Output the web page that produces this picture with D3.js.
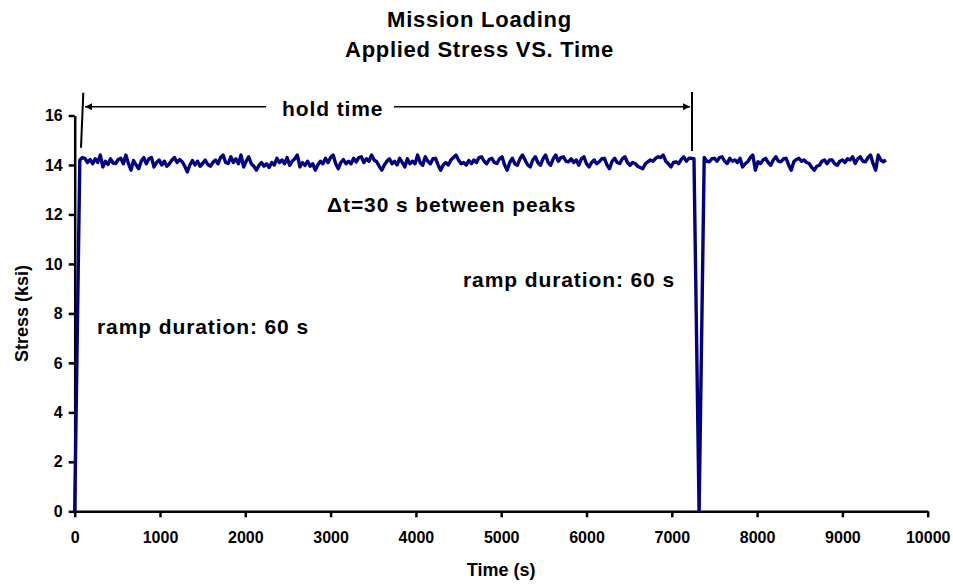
<!DOCTYPE html>
<html>
<head>
<meta charset="utf-8">
<script src="https://cdn.jsdelivr.net/npm/d3@7"></script>
<style>
  body { margin: 0; background: #fff; }
  text { font-family: Arial, 'Liberation Sans', sans-serif; font-weight: bold; fill: #000; }
</style>
</head>
<body>
<div id="chart"></div>
<script>
// stress readings (ksi), one every 30 s, first hold starts at 60 s
const holdOneStart = 60
const holdOneStress = [
  14.20, 14.30, 14.27, 14.10, 14.22, 14.05, 14.25, 14.10, 14.40, 13.92,
  14.15, 14.02, 14.25, 14.08, 14.06, 14.22, 14.27, 14.05, 14.40, 14.05,
  13.79, 14.18, 14.00, 13.85, 14.15, 14.30, 14.05, 14.25, 14.30, 13.92,
  14.10, 14.20, 14.00, 14.15, 13.95, 14.05, 14.20, 14.30, 14.10, 14.22,
  14.13, 13.95, 13.72, 14.00, 14.18, 14.00, 14.15, 13.95, 14.06, 14.20,
  14.02, 13.95, 14.10, 14.20, 14.05, 14.30, 14.40, 14.10, 14.06, 14.33,
  14.10, 14.25, 14.05, 14.40, 13.92, 14.15, 14.33, 14.05, 13.95, 13.79,
  13.98, 14.10, 13.95, 14.05, 13.90, 14.10, 14.00, 14.27, 14.10, 14.20,
  14.05, 14.30, 13.99, 14.15, 14.25, 14.40, 13.92, 14.10, 13.98, 14.15,
  13.95, 14.05, 13.79, 14.00, 14.15, 14.05, 14.27, 14.10, 14.30, 14.40,
  14.05, 13.85, 14.10, 14.22, 14.05, 14.15, 14.05, 14.27, 14.12, 14.30,
  14.33, 14.10, 14.25, 14.15, 14.40, 14.20, 14.13, 13.95, 13.79, 14.00,
  14.15, 14.25, 14.05, 14.15, 14.00, 14.27, 14.10, 13.92, 14.25, 14.05,
  14.15, 14.05, 14.40, 14.10, 13.99, 14.33, 14.15, 14.05, 14.25, 14.27,
  14.00, 13.79, 14.00, 14.10, 14.00, 14.20, 14.30, 14.40, 14.20, 14.05,
  14.10, 14.00, 14.18, 14.05, 14.20, 14.10, 14.30, 14.33, 14.15, 14.05,
  14.22, 14.27, 14.10, 14.06, 14.25, 14.33, 14.00, 13.79, 14.10, 14.27,
  14.05, 13.99, 14.25, 14.40, 14.20, 14.00, 13.92, 14.20, 14.33, 14.10,
  13.99, 14.25, 14.40, 14.10, 13.99, 14.25, 14.40, 14.15, 14.30, 14.33,
  14.15, 14.13, 14.25, 14.10, 14.20, 13.99, 14.25, 14.33, 14.05, 13.92,
  14.10, 14.20, 14.05, 14.13, 14.25, 14.27, 14.00, 13.85, 14.15, 14.27,
  14.10, 14.06, 14.25, 14.33, 14.10, 13.99, 14.10, 14.06, 13.95, 13.90,
  13.85, 14.05, 14.13, 14.20, 14.15, 14.27, 14.33, 14.30, 14.40, 14.15,
  14.05, 13.92, 14.10, 14.13, 14.05, 14.22, 14.33, 14.15, 14.27, 14.27,
  14.25
]
// unload / reload valley
const valleyTime = 7320
const valleyStress = 0
// second hold
const holdTwoStart = 7380
const holdTwoStress = [
  14.30, 14.15, 14.13, 14.25, 14.27, 14.15, 14.30, 14.33, 14.15, 14.06,
  14.27, 14.15, 14.20, 14.10, 14.27, 13.92, 14.05, 14.13, 14.30, 14.40,
  13.79, 14.13, 14.06, 14.20, 14.27, 14.10, 13.99, 14.20, 14.33, 14.15,
  14.13, 14.25, 14.27, 14.00, 13.79, 14.13, 14.22, 14.27, 14.15, 14.20,
  14.10, 14.06, 13.90, 13.79, 13.95, 13.99, 14.15, 14.20, 14.05, 14.20,
  14.20, 14.05, 13.99, 14.15, 14.20, 14.10, 14.25, 14.20, 14.33, 14.06,
  14.25, 14.33, 14.15, 14.13, 14.30, 14.40, 14.05, 13.79, 14.40, 14.20,
  14.13, 14.20
]
const sampleStep = 30

const xTicks = [0, 1000, 2000, 3000, 4000, 5000, 6000, 7000, 8000, 9000, 10000]
const yTicks = [0, 2, 4, 6, 8, 10, 12, 14, 16]

const width = 953
const height = 584

// build the series
var series = [{ t: 0, s: 0 }]
holdOneStress.forEach(function (s, i) { series.push({ t: holdOneStart + i * sampleStep, s: s }) })
series.push({ t: valleyTime, s: valleyStress })
holdTwoStress.forEach(function (s, i) { series.push({ t: holdTwoStart + i * sampleStep, s: s }) })

const svg = d3.select('#chart')
  .append('svg')
  .attr('width', width)
  .attr('height', height)

const x = d3.scaleLinear().domain([0, 10000]).range([74.7, 927.7])
const y = d3.scaleLinear().domain([0, 16]).range([511.3, 115.5])

// axes
const yAxis = svg.append('g')
  .attr('transform', 'translate(' + x(0) + ',0)')
  .call(d3.axisLeft(y).tickValues(yTicks).tickSize(6).tickSizeOuter(0).tickPadding(6))
const xAxis = svg.append('g')
  .attr('transform', 'translate(0,' + y(0) + ')')
  .call(d3.axisBottom(x).tickValues(xTicks).tickSize(6).tickSizeOuter(0).tickPadding(14).tickFormat(d3.format('d')))

;[xAxis, yAxis].forEach(function (a) {
  a.select('.domain').attr('stroke', '#000').attr('stroke-width', 2.5)
  a.selectAll('.tick line').attr('stroke', '#000').attr('stroke-width', 2.5)
  a.selectAll('.tick text')
    .style('font-family', "Arial, 'Liberation Sans', sans-serif")
    .style('font-weight', 'bold')
    .style('font-size', '16px')
    .attr('fill', '#000')
})

// the stress line
const line = d3.line().x(function (d) { return x(d.t) }).y(function (d) { return y(d.s) })
svg.append('path')
  .datum(series)
  .attr('d', line)
  .attr('fill', 'none')
  .attr('stroke', '#000080')
  .attr('stroke-width', 3.4)
  .attr('stroke-linejoin', 'round')

// titles
svg.append('text').attr('x', 479.5).attr('y', 26.7).attr('text-anchor', 'middle')
  .style('font-size', '22px').style('letter-spacing', '0.75px').text('Mission Loading')
svg.append('text').attr('x', 479.5).attr('y', 57).attr('text-anchor', 'middle')
  .style('font-size', '22px').style('letter-spacing', '0.7px').text('Applied Stress VS. Time')

svg.append('text').attr('x', (x(0) + x(10000)) / 2).attr('y', 576).attr('text-anchor', 'middle')
  .style('font-size', '18px').text('Time (s)')
svg.append('text').attr('transform', 'translate(28,' + (y(0) + y(16)) / 2 + ') rotate(-90)')
  .attr('text-anchor', 'middle').style('font-size', '18px').text('Stress (ksi)')

// annotations
const defs = svg.append('defs')
defs.append('marker')
  .attr('id', 'arrow')
  .attr('viewBox', '0 0 10 10')
  .attr('refX', 10).attr('refY', 5)
  .attr('markerWidth', 9).attr('markerHeight', 7)
  .attr('markerUnits', 'userSpaceOnUse')
  .attr('orient', 'auto')
  .append('path').attr('d', 'M0,0L10,5L0,10z').attr('fill', '#000')

svg.append('line').attr('x1', 83.3).attr('y1', 92.7).attr('x2', 81).attr('y2', 147.7)
  .attr('stroke', '#000').attr('stroke-width', 2)
svg.append('line').attr('x1', 692).attr('y1', 92).attr('x2', 692).attr('y2', 151)
  .attr('stroke', '#000').attr('stroke-width', 2)
svg.append('line').attr('x1', 266).attr('y1', 106.7).attr('x2', 85).attr('y2', 106.7)
  .attr('stroke', '#000').attr('stroke-width', 1.5).attr('marker-end', 'url(#arrow)')
svg.append('line').attr('x1', 394).attr('y1', 106.7).attr('x2', 690).attr('y2', 106.7)
  .attr('stroke', '#000').attr('stroke-width', 1.5).attr('marker-end', 'url(#arrow)')

const notes = [
  { text: 'hold time', x: 282, y: 116 },
  { text: '\u0394t=30 s between peaks', x: 327, y: 212 },
  { text: 'ramp duration: 60 s', x: 463, y: 287 },
  { text: 'ramp duration: 60 s', x: 97, y: 334 }
]
svg.selectAll('.note')
  .data(notes)
  .enter().append('text')
  .attr('class', 'note')
  .attr('x', function (d) { return d.x })
  .attr('y', function (d) { return d.y })
  .style('font-size', '21px')
  .style('letter-spacing', '0.9px')
  .text(function (d) { return d.text })
</script>
</body>
</html>
